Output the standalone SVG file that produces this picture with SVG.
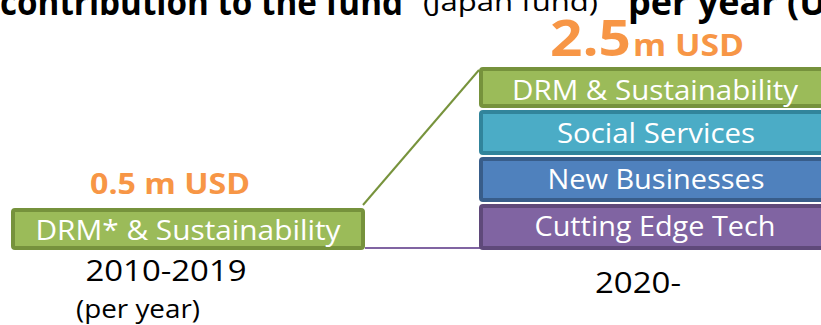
<svg xmlns="http://www.w3.org/2000/svg" width="821" height="325" viewBox="0 0 821 325">
<style>
text{font-family:"Open Sans","Noto Sans","Liberation Sans",sans-serif}
.lbl{fill:#ffffff;font-size:27px;text-anchor:middle}
.amt{fill:#f79646;font-weight:bold}
.yr{fill:#000000;font-size:29px}
.box{stroke-width:4}
.g{fill:#9bbb59;stroke:#76923c}
.t{fill:#4bacc6;stroke:#31849b}
.b{fill:#4f81bd;stroke:#385d8a}
.p{fill:#8064a2;stroke:#5f497a}
.conn{fill:none;stroke-width:2}
</style>
<g id="title">
<text x="0" y="15" font-size="36" font-weight="bold" fill="#000" textLength="403" lengthAdjust="spacingAndGlyphs">contribution to the fund</text>
<text x="423" y="11" font-size="26" fill="#000" textLength="175" lengthAdjust="spacingAndGlyphs">(Japan fund)</text>
<text x="628" y="15" font-size="36" font-weight="bold" fill="#000">per year (USD)</text>
</g>
<g id="connectors">
<line class="conn" x1="363" y1="205" x2="479" y2="70" stroke="#77933c"/>
<line class="conn" x1="365" y1="248" x2="481" y2="248" stroke="#8064a2"/>
</g>
<g id="node-left">
<text class="amt" x="170" y="194" font-size="28" text-anchor="middle" textLength="160" lengthAdjust="spacingAndGlyphs">0.5 m USD</text>
<rect class="box g" x="13" y="210" width="350" height="38" rx="2"/>
<text class="lbl" x="188" y="240" textLength="305" lengthAdjust="spacingAndGlyphs">DRM* &amp; Sustainability</text>
<text class="yr" x="166" y="281" text-anchor="middle" textLength="161" lengthAdjust="spacingAndGlyphs">2010-2019</text>
<text x="138" y="318" font-size="26" fill="#000" text-anchor="middle" textLength="124" lengthAdjust="spacingAndGlyphs">(per year)</text>
</g>
<g id="node-right">
<text class="amt" x="550" y="56" font-size="50" textLength="81" lengthAdjust="spacingAndGlyphs">2.5</text>
<text class="amt" x="633" y="56" font-size="31" textLength="111" lengthAdjust="spacingAndGlyphs">m USD</text>
</g>
<g id="node-drm">
<rect class="box g" x="481" y="69" width="354" height="37" rx="2"/>
<text class="lbl" x="655" y="100" textLength="286" lengthAdjust="spacingAndGlyphs">DRM &amp; Sustainability</text>
</g>
<g id="node-social">
<rect class="box t" x="481" y="112" width="354" height="41" rx="2"/>
<text class="lbl" x="656" y="143" textLength="198" lengthAdjust="spacingAndGlyphs">Social Services</text>
</g>
<g id="node-business">
<rect class="box b" x="481" y="159" width="354" height="41" rx="2"/>
<text class="lbl" x="656" y="189" textLength="217" lengthAdjust="spacingAndGlyphs">New Businesses</text>
</g>
<g id="node-tech">
<rect class="box p" x="481" y="206" width="354" height="42" rx="2"/>
<text class="lbl" x="655" y="236" textLength="241" lengthAdjust="spacingAndGlyphs">Cutting Edge Tech</text>
</g>
<g id="label-2020">
<text class="yr" x="595" y="293" font-size="31" textLength="86" lengthAdjust="spacingAndGlyphs">2020-</text>
</g>
</svg>
